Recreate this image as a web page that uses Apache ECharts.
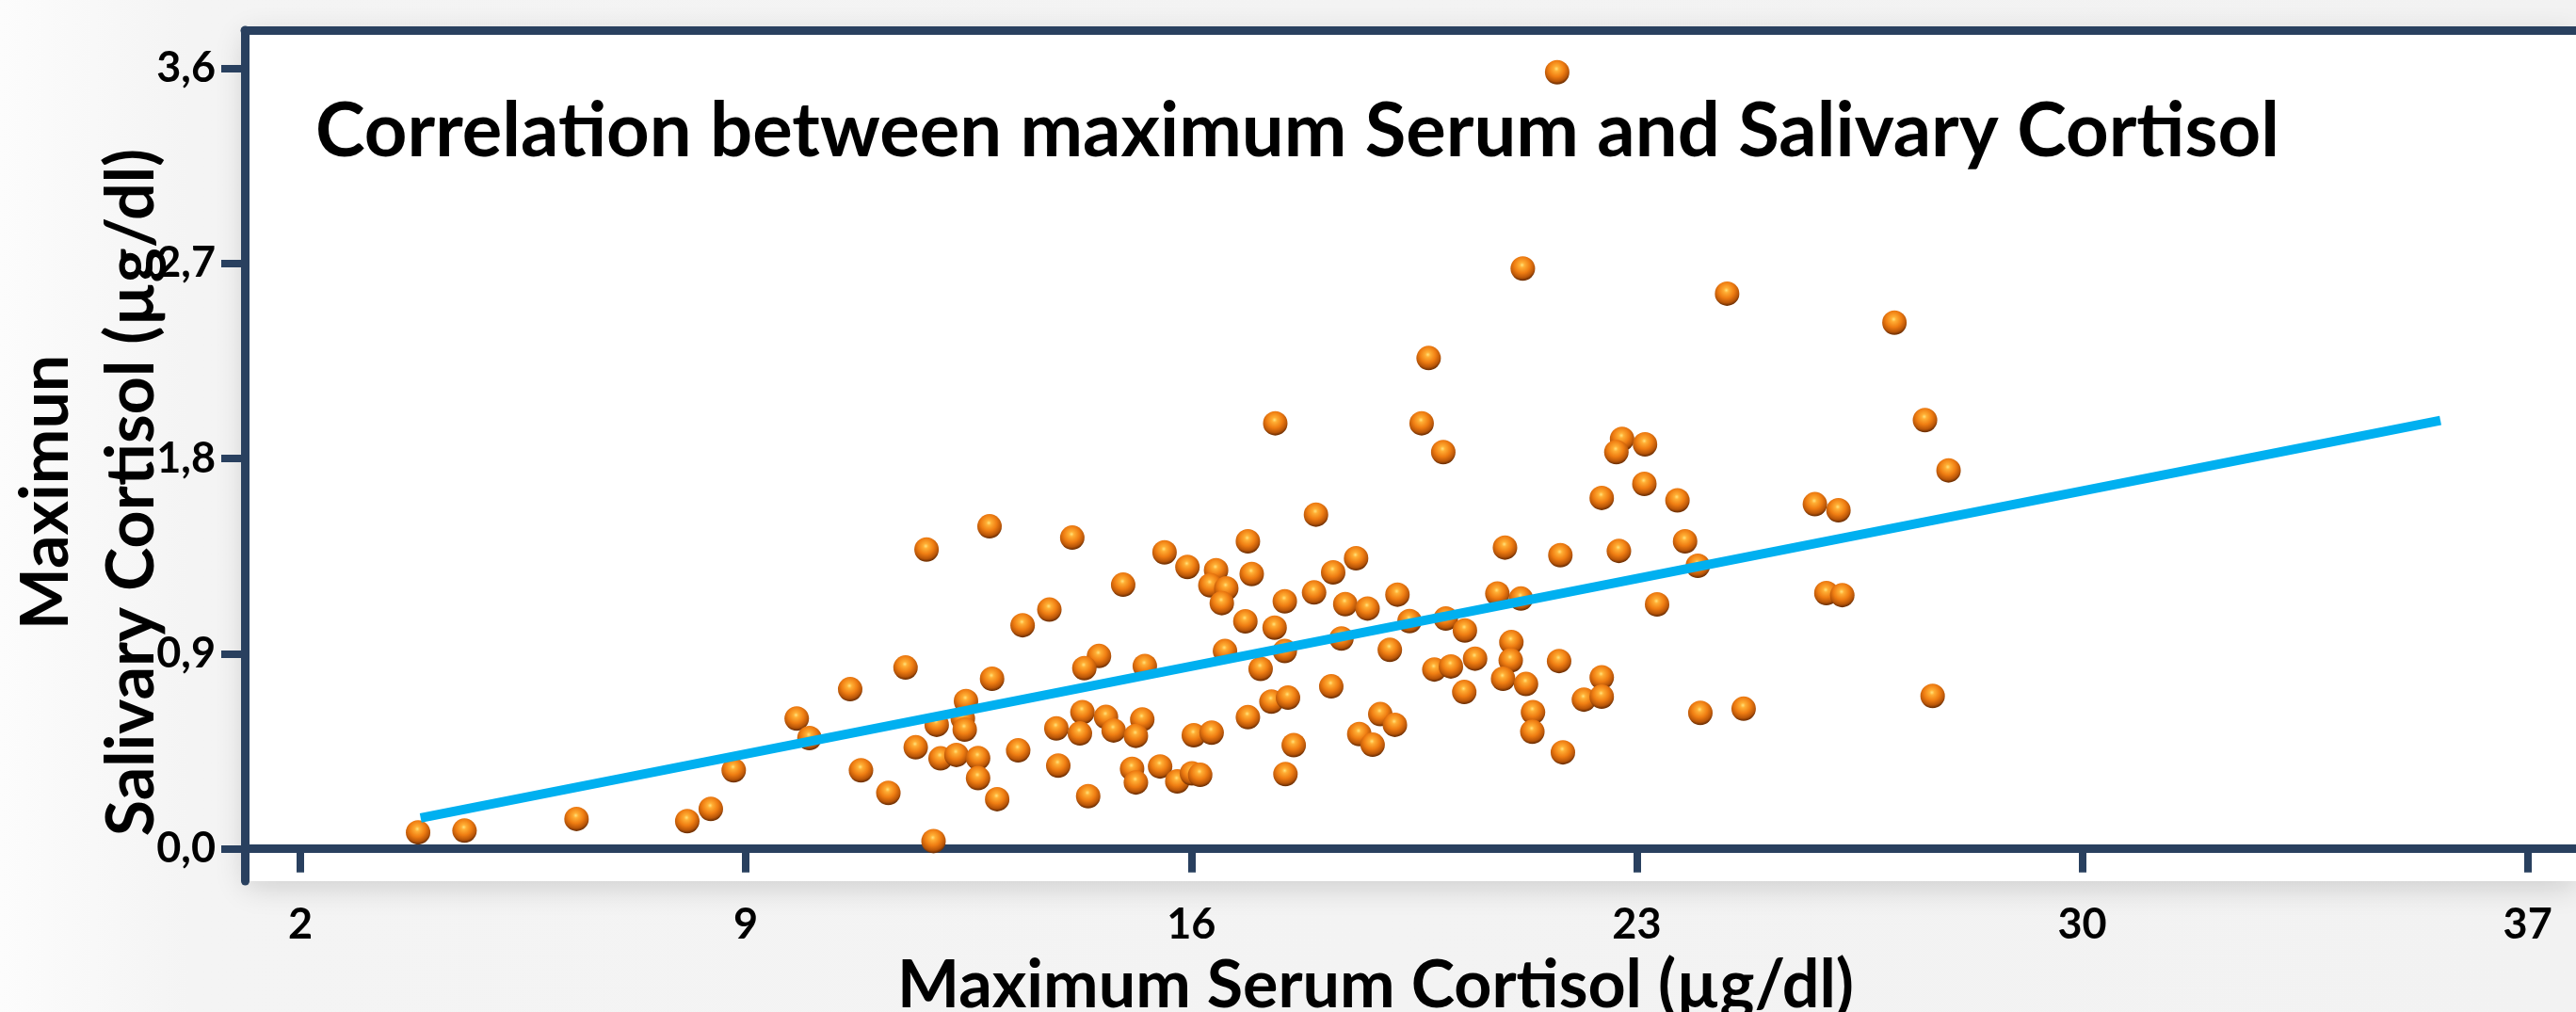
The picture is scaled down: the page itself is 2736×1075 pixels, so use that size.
<!DOCTYPE html>
<html>
<head>
<meta charset="utf-8">
<script src="https://cdn.jsdelivr.net/npm/echarts@6/dist/echarts.min.js"></script>
<style>
html,body{margin:0;padding:0;overflow:hidden;
  background:linear-gradient(to right,#fcfcfc 0px,#f4f4f4 200px,#f2f2f2 100%);}
#chart{width:2736px;height:1075px;}
</style>
</head>
<body>
<div id="chart"></div>
<script>
// Maximum serum cortisol (µg/dl)
const serumX = [
  21.75, 21.21, 24.42, 27.05, 19.73, 17.32, 19.62, 19.96, 22.77, 22.68, 23.13, 27.53, 27.90,
  3.85, 4.58, 6.34, 8.08, 8.45, 8.81,
  11.84, 12.83, 14.13, 15.58, 15.94, 14.93, 13.77, 13.35, 11.51, 10.64, 12.87, 14.55, 14.32, 15.27,
  9.80, 10.00, 12.46, 12.41, 12.00, 12.44, 14.29, 14.66, 15.23, 13.88, 14.25, 14.78, 15.13, 16.04,
  11.67, 12.06, 12.31, 12.65, 13.28, 10.81, 12.65, 13.91, 15.07, 15.51, 15.13, 15.78, 14.38, 11.24,
  12.95, 11.95,
  17.96, 16.89, 16.39, 16.95, 16.30, 16.55, 16.48, 18.59, 18.23, 20.93, 21.80, 17.93, 17.47, 18.42,
  18.77, 19.24, 20.81, 21.18, 16.85, 17.31, 19.43, 20.00, 20.30, 16.53, 17.47, 18.36, 19.12, 21.03,
  17.09, 19.82, 20.08, 20.46, 21.02, 21.78, 20.90, 21.26, 18.20, 20.29, 22.17, 17.26, 17.52, 16.89,
  18.97, 19.20, 21.37, 21.36, 16.32, 18.64, 18.85, 17.61, 21.84, 16.01, 16.14, 17.48,
  22.45, 23.12, 23.64, 25.80, 26.17, 22.72, 23.76, 23.96, 23.32, 25.98, 26.23, 22.45, 22.45, 24.00,
  24.68, 27.65
];
// Maximum salivary cortisol (µg/dl)
const salivaY = [
  3.581, 2.676, 2.560, 2.426, 2.263, 1.962, 1.962, 1.829, 1.890, 1.829, 1.865, 1.977, 1.745,
  0.076, 0.084, 0.138, 0.128, 0.184, 0.362,
  1.380, 1.487, 1.435, 1.367, 1.300, 1.218, 1.103, 1.031, 0.836, 0.736, 0.784, 0.889, 0.833, 0.843,
  0.601, 0.511, 0.681, 0.601, 0.572, 0.550, 0.630, 0.608, 0.597, 0.555, 0.532, 0.546, 0.521, 0.524,
  0.468, 0.417, 0.433, 0.419, 0.454, 0.362, 0.326, 0.384, 0.369, 0.380, 0.306, 0.311, 0.243, 0.258,
  0.229, 0.036,
  1.541, 1.418, 1.285, 1.267, 1.215, 1.201, 1.133, 1.340, 1.275, 1.389, 1.354, 1.182, 1.141, 1.128,
  1.108, 1.172, 1.177, 1.154, 1.049, 1.020, 1.050, 1.062, 1.007, 0.912, 0.912, 0.970, 0.918, 0.953,
  0.830, 0.827, 0.841, 0.877, 0.869, 0.866, 0.784, 0.760, 0.749, 0.723, 0.688, 0.679, 0.697, 0.607,
  0.621, 0.572, 0.630, 0.540, 0.536, 0.529, 0.480, 0.478, 0.445, 0.348, 0.341, 0.345,
  1.618, 1.683, 1.607, 1.589, 1.561, 1.374, 1.418, 1.305, 1.127, 1.179, 1.170, 0.791, 0.702, 0.627,
  0.646, 0.705
];
// Fit line end points
const trendX = [3.89, 35.63];
const trendY = [0.142, 1.975];
// Tick values
const xTicks = [2, 9, 16, 23, 30, 37];
const yTicks = [0, 0.9, 1.8, 2.7, 3.6];

const titleText = 'Correlation between maximum Serum and Salivary Cortisol';
const xName = 'Maximum Serum Cortisol (µg/dl)';
const yName = 'Maximun\nSalivary Cortisol (µg/dl)';

const AXIS = '#29405f';
const FONT = 'Lato';

const points = serumX.map((x, i) => [x, salivaY[i]]);
const trend = trendX.map((x, i) => [x, trendY[i]]);

const sphere = {
  type: 'radial', x: 0.47, y: 0.36, r: 0.72,
  colorStops: [
    { offset: 0, color: '#ffe27a' },
    { offset: 0.14, color: '#ffae34' },
    { offset: 0.45, color: '#ef7d12' },
    { offset: 0.72, color: '#b85508' },
    { offset: 0.86, color: '#6e3004' },
    { offset: 1, color: '#e8842a' }
  ]
};

const chart = echarts.init(document.getElementById('chart'), null, { renderer: 'canvas' });
chart.setOption({
  animation: false,
  backgroundColor: 'transparent',
  title: {
    text: titleText, left: 335, top: 100, padding: 0,
    textStyle: { fontFamily: FONT, fontWeight: 'bold', fontSize: 79.6, color: '#000' }
  },
  grid: {
    left: 260, right: 0, top: 32, bottom: 139, show: true,
    outerBoundsMode: 'none', containLabel: false,
    backgroundColor: '#ffffff', borderWidth: 0,
    shadowColor: 'rgba(0,0,0,0.16)', shadowBlur: 30, shadowOffsetY: 6
  },
  xAxis: [{
    type: 'value', position: 'bottom', min: 1.127, max: 37.76,
    splitLine: { show: false },
    axisLine: { show: true, lineStyle: { color: AXIS, width: 9, cap: 'round' } },
    axisTick: { show: true, length: 25, customValues: xTicks, lineStyle: { color: AXIS, width: 8 } },
    axisLabel: { customValues: xTicks, margin: 24, fontFamily: FONT, fontWeight: 'bold', fontSize: 45, color: '#000' },
    name: xName, nameLocation: 'middle', nameGap: 76, nameMoveOverlap: false,
    nameTextStyle: { fontFamily: FONT, fontWeight: 'bold', fontSize: 70, color: '#000', padding: [0, 74, 0, 0] }
  }, {
    type: 'value', position: 'top', min: 1.127, max: 37.76,
    splitLine: { show: false },
    axisLine: { show: true, lineStyle: { color: AXIS, width: 9, cap: 'round' } },
    axisTick: { show: false }, axisLabel: { show: false }
  }],
  yAxis: {
    type: 'value', min: -0.149, max: 3.775,
    splitLine: { show: false },
    axisLine: { show: true, lineStyle: { color: AXIS, width: 9, cap: 'round' } },
    axisTick: { show: true, length: 25, customValues: yTicks, lineStyle: { color: AXIS, width: 8 } },
    axisLabel: {
      customValues: yTicks, margin: 31, fontFamily: FONT, fontWeight: 'bold', fontSize: 45, color: '#000',
      formatter: v => v.toFixed(1).replace('.', ',')
    },
    name: yName, nameLocation: 'middle', nameRotate: 90, nameGap: 74.5, nameMoveOverlap: false,
    nameTextStyle: { fontFamily: FONT, fontWeight: 'bold', fontSize: 70, lineHeight: 91, color: '#000', padding: [0, 78, 0, 0] }
  },
  series: [{
    type: 'scatter', data: points, symbol: 'circle', symbolSize: 26,
    itemStyle: { color: sphere, opacity: 1 }, z: 2
  }, {
    type: 'line', data: trend, symbol: 'none', z: 3,
    lineStyle: { color: '#00b0f0', width: 10, cap: 'butt' }
  }]
});
</script>
</body>
</html>
